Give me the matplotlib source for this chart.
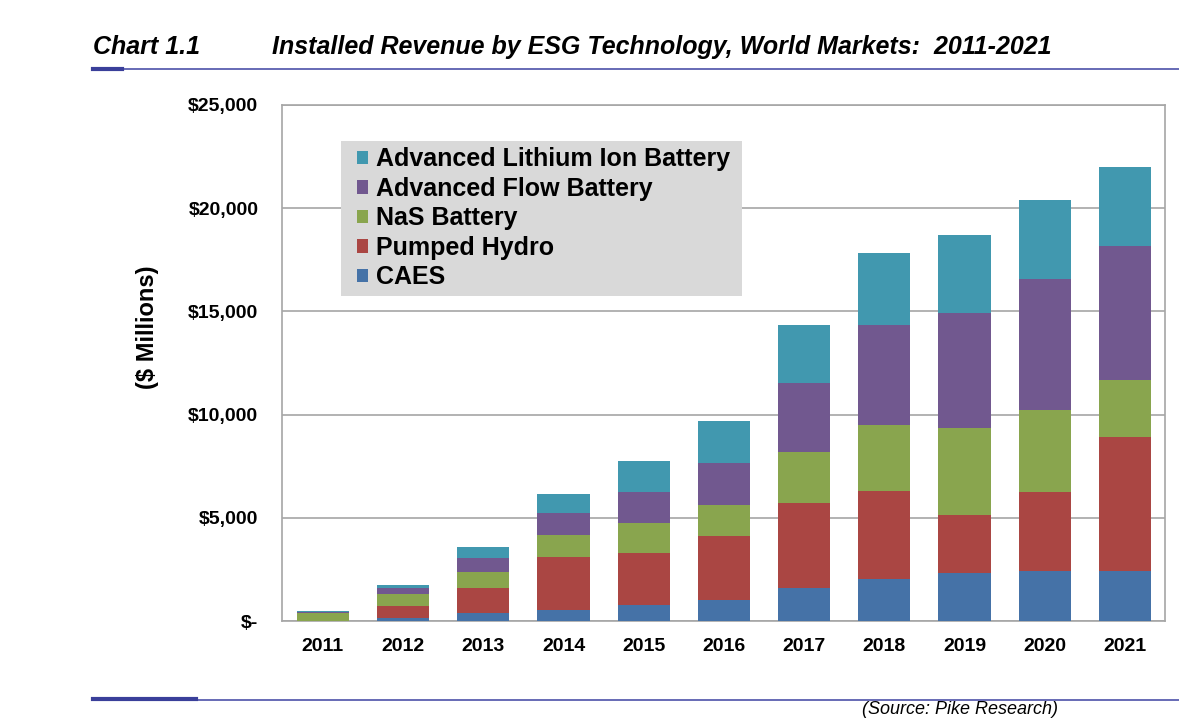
#! /usr/bin/env python

import numpy as np
import matplotlib.pyplot as plt
from matplotlib.patches import Patch, Rectangle

# data ($ millions)
years = ['2011', '2012', '2013', '2014', '2015', '2016', '2017', '2018', '2019', '2020', '2021']
caes = [0, 130, 370, 530, 770, 1000, 1580, 2050, 2340, 2400, 2400]
pumped_hydro = [20, 580, 1210, 2570, 2510, 3100, 4150, 4260, 2790, 3860, 6520]
nas = [370, 580, 810, 1090, 1450, 1500, 2470, 3170, 4230, 3980, 2770]
flow = [40, 290, 640, 1050, 1510, 2060, 3340, 4870, 5570, 6340, 6500]
lithium = [50, 180, 540, 920, 1490, 2040, 2800, 3470, 3770, 3820, 3790]

names = ['CAES', 'Pumped Hydro', 'NaS Battery', 'Advanced Flow Battery', 'Advanced Lithium Ion Battery']
colors = ['#4572A7', '#AA4643', '#89A54E', '#71588F', '#4198AF']
series = [caes, pumped_hydro, nas, flow, lithium]

plt.rcParams['font.family'] = ['Liberation Sans', 'DejaVu Sans']

W, H = 1179, 720
fig = plt.figure(figsize=(W / 100, H / 100), dpi=100)
ax = fig.add_axes([282/W, 1 - 621/H, (1165-282)/W, (621-105)/H])

x = np.arange(len(years))
bottom = np.zeros(len(years))
for vals, c in zip(series, colors):
    ax.bar(x, vals, 0.65, bottom=bottom, color=c, edgecolor='none', zorder=3)
    bottom += np.array(vals)

ax.set_xlim(-0.51, 10.5)
ax.set_ylim(0, 25000)
ax.set_yticks([0, 5000, 10000, 15000, 20000, 25000])
ax.set_yticklabels(['$-', '$5,000', '$10,000', '$15,000', '$20,000', '$25,000'],
                   fontsize=14, fontweight='bold')
ax.set_xticks(x)
ax.set_xticklabels(years, fontsize=14, fontweight='bold')
ax.tick_params(axis='x', length=0, pad=12)
ax.tick_params(axis='y', length=0, pad=17)
ax.grid(axis='y', color='#a6a6a6', linewidth=1.2, zorder=0)
for s in ax.spines.values():
    s.set_color('#a6a6a6')
    s.set_linewidth(1.2)
ax.set_ylabel('($ Millions)', fontsize=17, fontweight='bold')
ax.yaxis.set_label_coords(-0.139, 0.57)

# legend box (grey panel) and entries, top series first
ax.add_patch(Rectangle((341/W, 1 - 296/H), (742-341)/W, (296-141)/H,
                       transform=fig.transFigure, facecolor='#d9d9d9',
                       edgecolor='none', zorder=4))
handles = [Patch(facecolor=c, edgecolor='none') for c in colors[::-1]]
leg = ax.legend(handles, names[::-1], loc='upper left', bbox_to_anchor=(0.078, 0.93),
                borderaxespad=0, frameon=False,
                prop={'size': 18, 'weight': 'bold'}, handlelength=0.45, handleheight=0.45,
                handletextpad=0.3, labelspacing=0.22, borderpad=0.25)
leg.set_zorder(5)

# title and rules
fig.text(93/W, 1 - 47/H, 'Chart 1.1', fontsize=18, fontweight='bold', style='italic',
         va='center')
fig.text(272/W, 1 - 47/H, 'Installed Revenue by ESG Technology, World Markets:  2011-2021',
         fontsize=18, fontweight='bold', style='italic', va='center')
fig.add_artist(plt.Line2D([93/W, 1], [1 - 69/H] * 2, color='#5b5fb0', linewidth=1.3))
fig.add_artist(plt.Line2D([93/W, 122/W], [1 - 69/H] * 2, color='#3a3f9a', linewidth=3))
fig.add_artist(plt.Line2D([93/W, 1], [1 - 700/H] * 2, color='#5b5fb0', linewidth=1.3))
fig.add_artist(plt.Line2D([93/W, 196/W], [1 - 699/H] * 2, color='#3a3f9a', linewidth=3))
fig.text(862/W, 2/H, '(Source: Pike Research)', fontsize=13, style='italic', va='bottom')

plt.savefig('out.png', dpi=100)
